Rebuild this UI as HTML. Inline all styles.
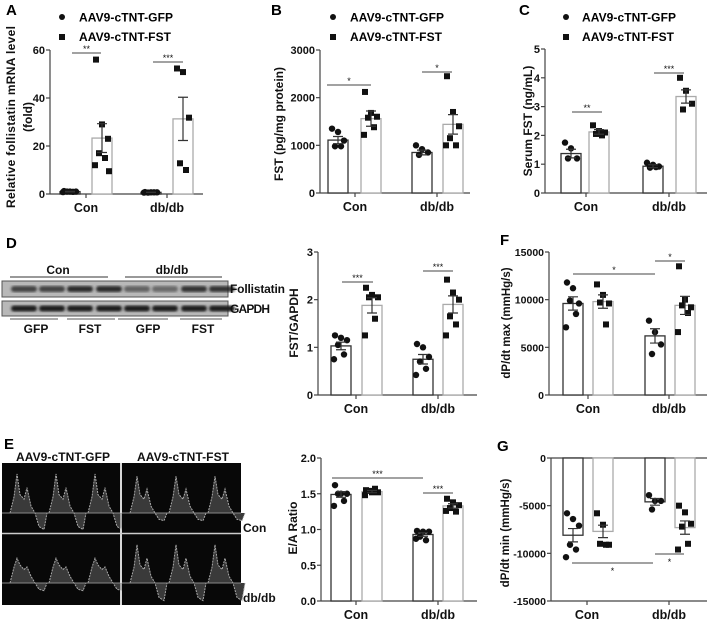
<!DOCTYPE html>
<html><head><meta charset="utf-8">
<style>
html,body{margin:0;padding:0;background:#fff;}
svg{display:block;font-family:"Liberation Sans",Arial,sans-serif;font-weight:bold;}
</style></head>
<body>
<svg id="fig" width="708" height="620" viewBox="0 0 708 620" xmlns="http://www.w3.org/2000/svg">
<defs><filter id="blur1"><feGaussianBlur stdDeviation="1.2"/></filter></defs>
<g font-size="15">
<text x="6" y="15">A</text>
<text x="271" y="15">B</text>
<text x="519" y="15">C</text>
<text x="6" y="248">D</text>
<text x="500" y="245">F</text>
<text x="4" y="449">E</text>
<text x="497" y="451">G</text>
</g>
<g font-size="12">
<g>
<circle cx="62" cy="17" r="3" fill="#111"/><text x="79" y="21.5" textLength="94">AAV9-cTNT-GFP</text>
<rect x="59" y="34" width="6" height="6" fill="#111"/><text x="79" y="41" textLength="92">AAV9-cTNT-FST</text>
</g>
<g>
<circle cx="333" cy="17" r="3" fill="#111"/><text x="350" y="21.5" textLength="94">AAV9-cTNT-GFP</text>
<rect x="330" y="34" width="6" height="6" fill="#111"/><text x="350" y="41" textLength="92">AAV9-cTNT-FST</text>
</g>
<g>
<circle cx="566" cy="17" r="3" fill="#111"/><text x="582" y="21.5" textLength="94">AAV9-cTNT-GFP</text>
<rect x="563" y="34" width="6" height="6" fill="#111"/><text x="582" y="41" textLength="92">AAV9-cTNT-FST</text>
</g>
</g>
<g id="blot" font-size="12"></g>
<g id="echo" font-size="12"></g>
<g id="charts"></g>
</svg>
<script>
// ---- data (group order: Con, db/db ; series: GFP, FST) ----
const categories = ["Con", "db/db"];
// A: relative follistatin mRNA
const aMeans = [[1.0, 23.3], [0.7, 31.3]];
const aSems = [[0.1, 6.0], [0.05, 9.0]];
const aPts = [[[1.2,1.0,1.0,1.0,0.9,0.8],[56,29,23,17,15,12,9.5]],[[0.8,0.7,0.7,0.6,0.7,0.6],[52.3,50.8,31.8,12.8,10]]];
const aTicks = [0, 20, 40, 60];
// B: FST pg/mg protein
const bMeans = [[1110, 1560], [850, 1440]];
const bSems = [[75, 160], [50, 205]];
const bPts = [[[1350,1280,1100,980,980],[2120,1680,1600,1580,1380,1220]],[[1000,920,850,800],[2450,1700,1400,1150,1000,1000]]];
const bTicks = [0, 1000, 2000, 3000];
// C: serum FST
const cMeans = [[1.37, 2.12], [0.93, 3.35]];
const cSems = [[0.15, 0.08], [0.05, 0.23]];
const cPts = [[[1.75,1.55,1.2,1.2],[2.35,2.15,2.1,2.05,2.0]],[[1.05,0.98,0.92,0.88,0.9],[4.0,3.55,3.1,2.9]]];
const cTicks = [0, 1, 2, 3, 4, 5];
// D: FST/GAPDH
const dMeans = [[1.03, 1.88], [0.75, 1.90]];
const dSems = [[0.08, 0.16], [0.1, 0.18]];
const dPts = [[[1.25,1.2,1.15,1.05,0.85,0.75],[2.25,2.1,2.05,2.05,1.6,1.25]],[[1.07,1.0,0.8,0.7,0.55,0.42],[2.42,2.15,2.0,1.65,1.48,1.25]]];
const dTicks = [0, 1, 2, 3];
// F: dP/dt max
const fMeans = [[9600, 9800], [6200, 9400]];
const fSems = [[700, 700], [750, 950]];
const fPts = [[[11800,11200,9600,9900,8500,7100],[11600,10500,9600,9700,7400]],[[7800,6600,5300,4300],[13500,10000,9200,9400,8600,6600]]];
const fTicks = [0, 5000, 10000, 15000];
// E: E/A ratio
const eMeans = [[1.49, 1.53], [0.93, 1.33]];
const eSems = [[0.04, 0.015], [0.025, 0.03]];
const ePts = [[[1.62,1.5,1.5,1.5,1.4,1.33],[1.55,1.52,1.52,1.54,1.57,1.48]],[[0.98,0.97,0.97,0.9,0.85,0.87],[1.43,1.38,1.34,1.3,1.25,1.26]]];
const eTicks = [0, 0.5, 1.0, 1.5, 2.0];
const eTickLabels = ["0.0", "0.5", "1.0", "1.5", "2.0"];
// G: dP/dt min
const gMeans = [[-8100, -7700], [-4600, -7300]];
const gSems = [[700, 650], [350, 700]];
const gPts = [[[-5800,-6400,-7100,-9100,-9600,-10400],[-5800,-7000,-9100,-9000,-9100]],[[-3900,-4500,-4500,-5400],[-5000,-5700,-6900,-7200,-9000,-9600]]];
const gTicks = [0, -5000, -10000, -15000];

const NS = "http://www.w3.org/2000/svg";
function mk(tag, attrs, parent) {
  const e = document.createElementNS(NS, tag);
  for (const k in attrs) e.setAttribute(k, attrs[k]);
  if (parent) parent.appendChild(e);
  return e;
}
const jitter = [-6, 0, 6, -3, 3, -7, 7];

function panel(cfg) {
  const g = mk("g", {}, document.getElementById("charts"));
  
  
  const y = v => cfg.p0 + (v - cfg.v0) / (cfg.v1 - cfg.v0) * (cfg.p1 - cfg.p0);
  const axc = "#444";
  const top = Math.min(cfg.p0, cfg.p1), bot = Math.max(cfg.p0, cfg.p1);
  const ya = mk("line", {x1: cfg.ax, y1: top, x2: cfg.ax, y2: bot, stroke: axc, "stroke-width": 1.2}, g);
  
  
  cfg.ticks.forEach((t, i) => {
    mk("line", {x1: cfg.ax - 4, y1: y(t), x2: cfg.ax, y2: y(t), stroke: axc, "stroke-width": 1.2}, g);
    const tl = mk("text", {x: cfg.ax - 5, y: y(t) + 4, "text-anchor": "end", "font-size": cfg.tickSize || 11, fill: "#111"}, g);
    tl.textContent = cfg.tickLabels ? cfg.tickLabels[i] : String(t);
    
    
  });
  const zy = y(0);
  const xa = mk("line", {x1: cfg.ax, y1: zy, x2: cfg.xEnd, y2: zy, stroke: axc, "stroke-width": 1.2}, g);
  
  
  const catY = cfg.neg ? bot : zy;
  if (cfg.neg) mk("line", {x1: cfg.ax, y1: bot, x2: cfg.xEnd, y2: bot, stroke: axc, "stroke-width": 1.2}, g);
  cfg.cats.forEach((cx, i) => {
    mk("line", {x1: cx, y1: catY, x2: cx, y2: catY + 4, stroke: axc, "stroke-width": 1.2}, g);
    const cl = mk("text", {x: cx, y: catY + 18, "text-anchor": "middle", "font-size": 12.5, fill: "#111"}, g);
    cl.textContent = categories[i];
    
    
  });
  const yl = mk("text", {x: 0, y: 0, "text-anchor": "middle", "font-size": cfg.ylSize || 12, fill: "#111",
    transform: `translate(${cfg.ylx},${cfg.yly}) rotate(-90)`}, g);
  yl.textContent = cfg.ylabel;
  if (cfg.ylLen) yl.setAttribute("textLength", cfg.ylLen);
  
  
  if (cfg.ylabel2) {
    const y2 = mk("text", {x: 0, y: 0, "text-anchor": "middle", "font-size": 12, fill: "#111",
      transform: `translate(${cfg.ylx + 17},${cfg.yly}) rotate(-90)`}, g);
    y2.textContent = cfg.ylabel2;
    
    
  }
  const bw = 20;
  for (let c = 0; c < 2; c++) for (let s = 0; s < 2; s++) {
    const cx = cfg.centers[c][s];
    const m = cfg.means[c][s], se = cfg.sems[c][s];
    const col = s === 0 ? "#333" : "#aaa";
    const y1 = Math.min(y(0), y(m)), h = Math.abs(y(0) - y(m));
    const bar = mk("rect", {x: cx - bw / 2, y: y1, width: bw, height: h, fill: "#fff", stroke: col, "stroke-width": 1.3}, g);
    
    
    const pts = cfg.pts[c][s];
    pts.forEach((v, i) => {
      const px = cx + jitter[i % jitter.length];
      let mark;
      if (s === 0) mark = mk("circle", {cx: px, cy: y(v), r: 3.2, fill: "#111"}, g);
      else mark = mk("rect", {x: px - 3, y: y(v) - 3, width: 6, height: 6, fill: "#111"}, g);
      
      
    });
    const eb = mk("path", {d: `M${cx},${y(m - se)}V${y(m + se)}M${cx - 5},${y(m - se)}H${cx + 5}M${cx - 5},${y(m + se)}H${cx + 5}`,
      stroke: "#333", "stroke-width": 1.2, fill: "none"}, g);
    
    
  }
  cfg.sig.forEach(([x1, x2, sy, lab, below]) => {
    const sl = mk("line", {x1, y1: sy, x2, y2: sy, stroke: "#444", "stroke-width": 1}, g);
    
    
    const st = mk("text", {x: (x1 + x2) / 2, y: below ? sy + 11 : sy - 1, "text-anchor": "middle", "font-size": 9, "font-weight": "normal", fill: "#111"}, g);
    st.textContent = lab;
    
    
  });
}

panel({name: "chart-a-mrna", ax: 50, v0: 0, p0: 194, v1: 60, p1: 50, xEnd: 203, ticks: aTicks, cats: [86, 167],
  centers: [[70, 102], [151, 183]], means: aMeans, sems: aSems, pts: aPts,
  ylabel: "Relative follistatin mRNA level", ylabel2: "(fold)", ylx: 15, yly: 117, ylSize: 12, ylLen: 182,
  sig: [[72, 101, 53, "**"], [153, 183, 62, "***"]]});
panel({name: "chart-b-fst-protein", ax: 320, v0: 0, p0: 193, v1: 3000, p1: 50, xEnd: 470, ticks: bTicks, cats: [355, 437],
  centers: [[338, 371], [422, 453]], means: bMeans, sems: bSems, pts: bPts,
  ylabel: "FST (pg/mg protein)", ylx: 283, yly: 124,
  sig: [[327, 371, 85, "*"], [422, 452, 72, "*"]]});
panel({name: "chart-c-serum-fst", ax: 545, v0: 0, p0: 193, v1: 5, p1: 49, xEnd: 707, ticks: cTicks, cats: [586, 669],
  centers: [[571, 599], [653, 686]], means: cMeans, sems: cSems, pts: cPts,
  ylabel: "Serum FST (ng/mL)", ylx: 532, yly: 121,
  sig: [[572, 602, 112, "**"], [654, 684, 73, "***"]]});
panel({name: "chart-d-fst-gapdh", ax: 318, v0: 0, p0: 395, v1: 3, p1: 252, xEnd: 477, ticks: dTicks, cats: [356, 438],
  centers: [[341, 372], [423, 453]], means: dMeans, sems: dSems, pts: dPts,
  ylabel: "FST/GAPDH", ylx: 298, yly: 323,
  sig: [[342, 373, 282, "***"], [423, 453, 271, "***"]]});
panel({name: "chart-f-dpdt-max", ax: 549, v0: 0, p0: 395, v1: 15000, p1: 252, xEnd: 707, ticks: fTicks, cats: [588, 669],
  centers: [[573, 603], [655, 685]], means: fMeans, sems: fSems, pts: fPts, tickSize: 10.5,
  ylabel: "dP/dt max (mmHg/s)", ylx: 510, yly: 323, ylSize: 11.5,
  sig: [[573, 655, 274, "*"], [655, 685, 261, "*"]]});
panel({name: "chart-e-ea-ratio", ax: 321, v0: 0, p0: 601, v1: 2, p1: 458, xEnd: 477, ticks: eTicks, tickLabels: eTickLabels, cats: [356, 438],
  centers: [[341, 372], [423, 453]], means: eMeans, sems: eSems, pts: ePts,
  ylabel: "E/A Ratio", ylx: 297, yly: 528,
  sig: [[332, 423, 478, "***"], [423, 453, 493, "***"]]});
panel({name: "chart-g-dpdt-min", ax: 551, v0: 0, p0: 458, v1: -15000, p1: 601, xEnd: 707, ticks: gTicks, cats: [587, 669], neg: true,
  centers: [[573, 603], [655, 685]], means: gMeans, sems: gSems, pts: gPts, tickSize: 10.5,
  ylabel: "dP/dt min (mmHg/s)", ylx: 509, yly: 533, ylSize: 11.5,
  sig: [[572, 653, 563, "*", true], [655, 684, 554, "*", true]]});

// ---- western blot ----
(function () {
  const b = document.getElementById("blot");
  const lab = (txt, x, y, anchor, name, len) => {
    const t = mk("text", {x, y, "text-anchor": anchor, fill: "#111"}, b);
    if (len) t.setAttribute("textLength", len);
    t.textContent = txt;
    
    
  };
  lab("Con", 58, 274, "middle", "blot-group-con");
  lab("db/db", 172, 274, "middle", "blot-group-dbdb");
  mk("line", {x1: 10, y1: 277, x2: 108, y2: 277, stroke: "#333"}, b);
  mk("line", {x1: 125, y1: 277, x2: 222, y2: 277, stroke: "#333"}, b);
  const lanes = [12, 40, 68, 97, 125, 153, 182, 210];
  const fInt = [0.75, 0.75, 0.9, 0.9, 0.55, 0.5, 0.85, 0.85];
  [[281, 297, fInt, "blot-follistatin"], [301, 316, [1, 1, 1, 1, 1, 1, 1, 1], "blot-gapdh"]].forEach(([y1, y2, ints, nm]) => {
    const r = mk("rect", {x: 2, y: y1, width: 226, height: y2 - y1, fill: "#b8b8b8", stroke: "#555", "stroke-width": 1}, b);
    
    
    lanes.forEach((lx, i) => {
      mk("rect", {x: lx - 1, y: (y1 + y2) / 2 - 3, width: 26, height: 6, rx: 3, fill: "#1a1a1a", opacity: ints[i], filter: "url(#blur1)"}, b);
    });
  });
  lab("Follistatin", 230, 293, "start", "blot-label-follistatin", 55);
  lab("GAPDH", 230, 313, "start", "blot-label-gapdh", 40);
  [[10, 58], [67, 115], [118, 168], [180, 222]].forEach(([a, c]) => mk("line", {x1: a, y1: 319, x2: c, y2: 319, stroke: "#555"}, b));
  lab("GFP", 36, 333, "middle", "blot-lane-gfp");
  lab("FST", 90, 333, "middle", "blot-lane-fst");
  lab("GFP", 148, 333, "middle", "blot-lane-gfp");
  lab("FST", 203, 333, "middle", "blot-lane-fst");
})();

// ---- echo images ----
(function () {
  const e = document.getElementById("echo");
  const t1 = mk("text", {x: 63, y: 461, "text-anchor": "middle", fill: "#111", textLength: 94}, e);
  t1.textContent = "AAV9-cTNT-GFP";
  
  
  const t2 = mk("text", {x: 183, y: 461, "text-anchor": "middle", fill: "#111", textLength: 92}, e);
  t2.textContent = "AAV9-cTNT-FST";
  
  
  const panels = [[2, 463, 118, 70, 513, 0.85, 0.75], [122, 463, 119, 70, 513, 0.8, 0.35], [2, 534, 118, 71, 583, 0.55, 0.35], [122, 534, 119, 71, 583, 0.85, 0.8]];
  panels.forEach(([x, y, w, h, base, ep, dip]) => {
    const r = mk("rect", {x, y, width: w, height: h, fill: "#080808"}, e);
    
    
    const amp = base - y - 4;
    let d = "";
    for (let bt = 0; bt < 3; bt++) {
      const x0 = x + 8 + bt * 39;
      d += `M${x0},${base}L${x0 + 4},${base - amp * 0.35}L${x0 + 7},${base - amp * ep}L${x0 + 10},${base - amp * 0.4}L${x0 + 14},${base - amp * 0.3}L${x0 + 17},${base - amp * ep * 0.65}L${x0 + 21},${base - amp * 0.15}L${x0 + 25},${base}L${x0 + 29},${base + 18 * dip}L${x0 + 34},${base + 22 * dip}L${x0 + 37},${base}`;
    }
    mk("path", {d, fill: "#3a3a3a", stroke: "#aaa", "stroke-width": 1, "stroke-dasharray": "2 1"}, e);
    mk("line", {x1: x, y1: base, x2: x + w, y2: base, stroke: "#888", "stroke-width": 1}, e);
  });
  mk("line", {x1: 2, y1: 533.5, x2: 241, y2: 533.5, stroke: "#ccc", "stroke-width": 1.5}, e);
  mk("line", {x1: 121, y1: 463, x2: 121, y2: 605, stroke: "#ccc", "stroke-width": 1.5}, e);
  const l1 = mk("text", {x: 243, y: 532, fill: "#111"}, e);
  l1.textContent = "Con";
  
  
  const l2 = mk("text", {x: 243, y: 602, fill: "#111"}, e);
  l2.textContent = "db/db";
  
  
})();
</script>
</body></html>
